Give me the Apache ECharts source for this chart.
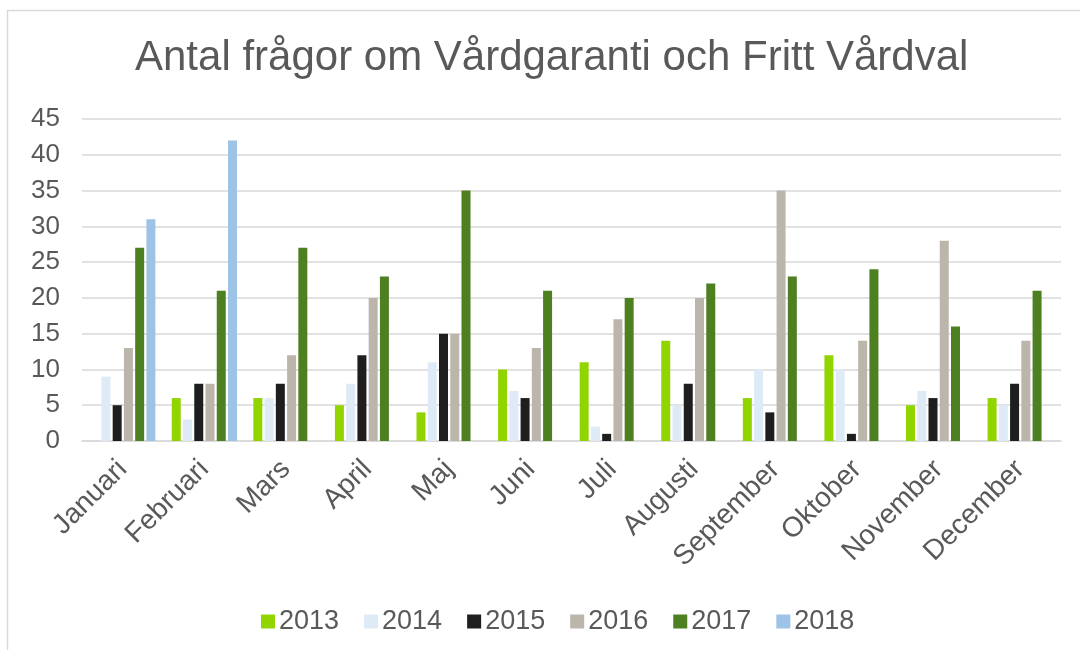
<!DOCTYPE html>
<html>
<head>
<meta charset="utf-8">
<script src="https://cdn.jsdelivr.net/npm/echarts@6/dist/echarts.min.js"></script>
<style>
html,body{margin:0;padding:0;background:#fff;}
#chart{width:1080px;height:650px;}
</style>
</head>
<body>
<div id="chart"></div>
<script>
const months = ['Januari','Februari','Mars','April','Maj','Juni','Juli','Augusti','September','Oktober','November','December'];
const years = ['2013','2014','2015','2016','2017','2018'];
const v2013 = [null, 6, 6, 5, 4, 10, 11, 14, 6, 12, 5, 6];
const v2014 = [9, 3, 6, 8, 11, 7, 2, 5, 10, 10, 7, 5];
const v2015 = [5, 8, 8, 12, 15, 6, 1, 8, 4, 1, 6, 8];
const v2016 = [13, 8, 12, 20, 15, 13, 17, 20, 35, 14, 28, 14];
const v2017 = [27, 21, 27, 23, 35, 21, 20, 22, 23, 24, 16, 21];
const v2018 = [31, 42, null, null, null, null, null, null, null, null, null, null];
const colors = ['#92d400', '#deebf7', '#1e1e1e', '#bcb5ab', '#4e8022', '#9dc3e6'];
const allValues = [v2013, v2014, v2015, v2016, v2017, v2018];

const chart = echarts.init(document.getElementById('chart'), null, {renderer: 'canvas'});
const font = '"Liberation Sans", Arial, sans-serif';
chart.setOption({
  animation: false,
  backgroundColor: '#fff',
  textStyle: {fontFamily: font},
  graphic: [{
    type: 'rect', left: 5, top: 8,
    shape: {width: 1100, height: 700},
    style: {fill: 'none', stroke: '#d9d9d9', lineWidth: 1.5}
  }],
  title: {
    text: 'Antal frågor om Vårdgaranti och Fritt Vårdval',
    left: 130, top: 32,
    textStyle: {fontFamily: font, fontSize: 42, fontWeight: 'normal', color: '#595959'}
  },
  legend: {
    data: years,
    top: 603, left: 256,
    itemWidth: 14, itemHeight: 14, itemGap: 25,
    icon: 'rect',
    textStyle: {fontFamily: font, fontSize: 27, color: '#595959', padding: [0,0,0,-1]}
  },
  grid: {left: 82, right: 19, top: 119, bottom: 209, containLabel: false},
  xAxis: {
    type: 'category', data: months,
    axisLine: {lineStyle: {color: '#d9d9d9', width: 1.5}},
    axisTick: {show: false},
    axisLabel: {rotate: 45, fontSize: 28, color: '#595959', fontFamily: font, margin: 24, interval: 0}
  },
  yAxis: {
    type: 'value', min: 0, max: 45, interval: 5,
    axisLine: {show: false}, axisTick: {show: false},
    splitLine: {lineStyle: {color: '#d9d9d9', width: 1.5}},
    axisLabel: {fontSize: 26, color: '#595959', fontFamily: font, margin: 22}
  },
  series: years.map((y, i) => ({
    name: y, type: 'bar', data: allValues[i],
    barWidth: 9, barGap: '25%',
    itemStyle: {color: colors[i]}
  }))
});
</script>
</body>
</html>
